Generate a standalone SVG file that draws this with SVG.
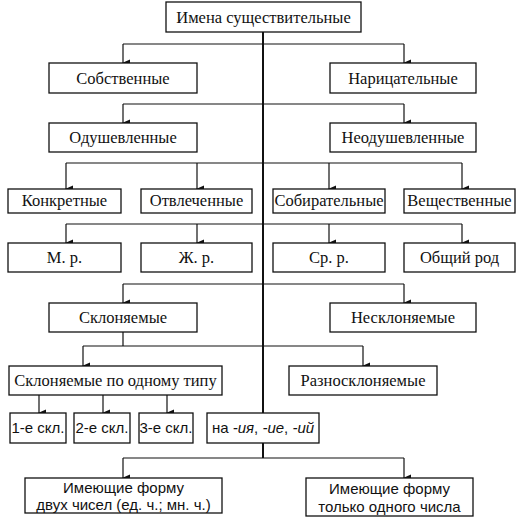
<svg xmlns="http://www.w3.org/2000/svg" width="530" height="529" viewBox="0 0 530 529">
<defs>
<marker id="ar" markerWidth="8" markerHeight="8" refX="4" refY="7" orient="auto-start-reverse" markerUnits="userSpaceOnUse" viewBox="0 0 8 8">
<path d="M0.5,0 L7.5,0 L4,8 Z" fill="#111"/>
</marker>
</defs>
<style>
rect{fill:#fff;stroke:#111;stroke-width:1.3}
.s{font-family:"Liberation Serif","Times New Roman",serif;font-size:16.5px;fill:#111;text-anchor:middle}
.a{font-family:"Liberation Sans",Arial,sans-serif;font-size:15px;fill:#111;text-anchor:middle}
.c path{fill:none;stroke:#111;stroke-width:1.2}
.c .m{stroke-width:2}
.d{marker-end:url(#ar)}
</style>
<rect x="0" y="0" width="530" height="529" style="fill:#fff;stroke:none"/>
<g class="c" id="connectors">
<path class="m" d="M263,32 V413"/>
<path class="m" d="M263,443 V458"/>
<path d="M123,44 H404"/>
<path class="d" d="M123,44 V63"/>
<path class="d" d="M404,44 V63"/>
<path d="M123,104 H404"/>
<path class="d" d="M123,104 V123"/>
<path class="d" d="M404,104 V123"/>
<path d="M66,163 H462"/>
<path class="d" d="M66,163 V189"/>
<path class="d" d="M197,163 V189"/>
<path class="d" d="M329,163 V189"/>
<path class="d" d="M462,163 V189"/>
<path d="M66,224 H462"/>
<path class="d" d="M66,224 V243"/>
<path class="d" d="M197,224 V243"/>
<path class="d" d="M329,224 V243"/>
<path class="d" d="M462,224 V243"/>
<path d="M123,284 H404"/>
<path class="d" d="M123,284 V303"/>
<path class="d" d="M404,284 V303"/>
<path d="M123,332 V346 M83,346 H363"/>
<path class="d" d="M83,346 V366"/>
<path class="d" d="M363,346 V366"/>
<path class="d" d="M39,395 V413"/>
<path class="d" d="M103,395 V413"/>
<path class="d" d="M167,395 V413"/>
<path d="M123,458 H404"/>
<path class="d" d="M123,458 V478"/>
<path class="d" d="M404,458 V478"/>
</g>
<g id="n-root"><rect x="166" y="2" width="195" height="30"/><text class="s" x="263.5" y="22.5">Имена существительные</text></g>
<g id="n-sobst"><rect x="49" y="63" width="148" height="30"/><text class="s" x="123" y="83.5">Собственные</text></g>
<g id="n-narits"><rect x="330" y="63" width="146" height="30"/><text class="s" x="403" y="83.5">Нарицательные</text></g>
<g id="n-odush"><rect x="49" y="123" width="148" height="29"/><text class="s" x="123" y="143">Одушевленные</text></g>
<g id="n-neodush"><rect x="330" y="123" width="146" height="29"/><text class="s" x="403" y="143">Неодушевленные</text></g>
<g id="n-konkr"><rect x="8" y="189" width="113" height="24"/><text class="s" x="64.5" y="206">Конкретные</text></g>
<g id="n-otvl"><rect x="141" y="189" width="111" height="24"/><text class="s" x="196.5" y="206">Отвлеченные</text></g>
<g id="n-sobir"><rect x="273" y="189" width="112" height="24"/><text class="s" x="329" y="206">Собирательные</text></g>
<g id="n-veshch"><rect x="404" y="189" width="111" height="24"/><text class="s" x="459.5" y="206">Вещественные</text></g>
<g id="n-m"><rect x="8" y="243" width="113" height="29"/><text class="s" x="64.5" y="262.5">М. р.</text></g>
<g id="n-zh"><rect x="141" y="243" width="111" height="29"/><text class="s" x="196.5" y="262.5">Ж. р.</text></g>
<g id="n-sr"><rect x="273" y="243" width="112" height="29"/><text class="s" x="329" y="262.5">Ср. р.</text></g>
<g id="n-obshch"><rect x="404" y="243" width="111" height="29"/><text class="s" x="459.5" y="262.5">Общий род</text></g>
<g id="n-skl"><rect x="49" y="303" width="148" height="29"/><text class="s" x="123" y="323">Склоняемые</text></g>
<g id="n-nescl"><rect x="330" y="303" width="146" height="29"/><text class="s" x="403" y="323">Несклоняемые</text></g>
<g id="n-odin"><rect x="9" y="366" width="213" height="29"/><text class="s" x="115.5" y="386">Склоняемые по одному типу</text></g>
<g id="n-razno"><rect x="289" y="366" width="148" height="29"/><text class="s" x="363" y="386">Разносклоняемые</text></g>
<g id="n-1"><rect x="10" y="413" width="56" height="30"/><text class="a" x="38" y="433">1-е скл.</text></g>
<g id="n-2"><rect x="74" y="413" width="56" height="30"/><text class="a" x="102" y="433">2-е скл.</text></g>
<g id="n-3"><rect x="139" y="413" width="54" height="30"/><text class="a" x="166" y="433">3-е скл.</text></g>
<g id="n-na"><rect x="207" y="413" width="112" height="30"/><text class="a" x="263" y="433">на <tspan font-style="italic">-ия</tspan>, <tspan font-style="italic">-ие</tspan>, <tspan font-style="italic">-ий</tspan></text></g>
<g id="n-dvuh"><rect x="25" y="478" width="197" height="35"/><text class="a" x="123.5" y="493">Имеющие форму</text><text class="a" x="123.5" y="510">двух чисел (ед. ч.; мн. ч.)</text></g>
<g id="n-odnogo"><rect x="306" y="478" width="167" height="38"/><text class="a" x="389.5" y="494">Имеющие форму</text><text class="a" x="389.5" y="512">только одного числа</text></g>
</svg>
